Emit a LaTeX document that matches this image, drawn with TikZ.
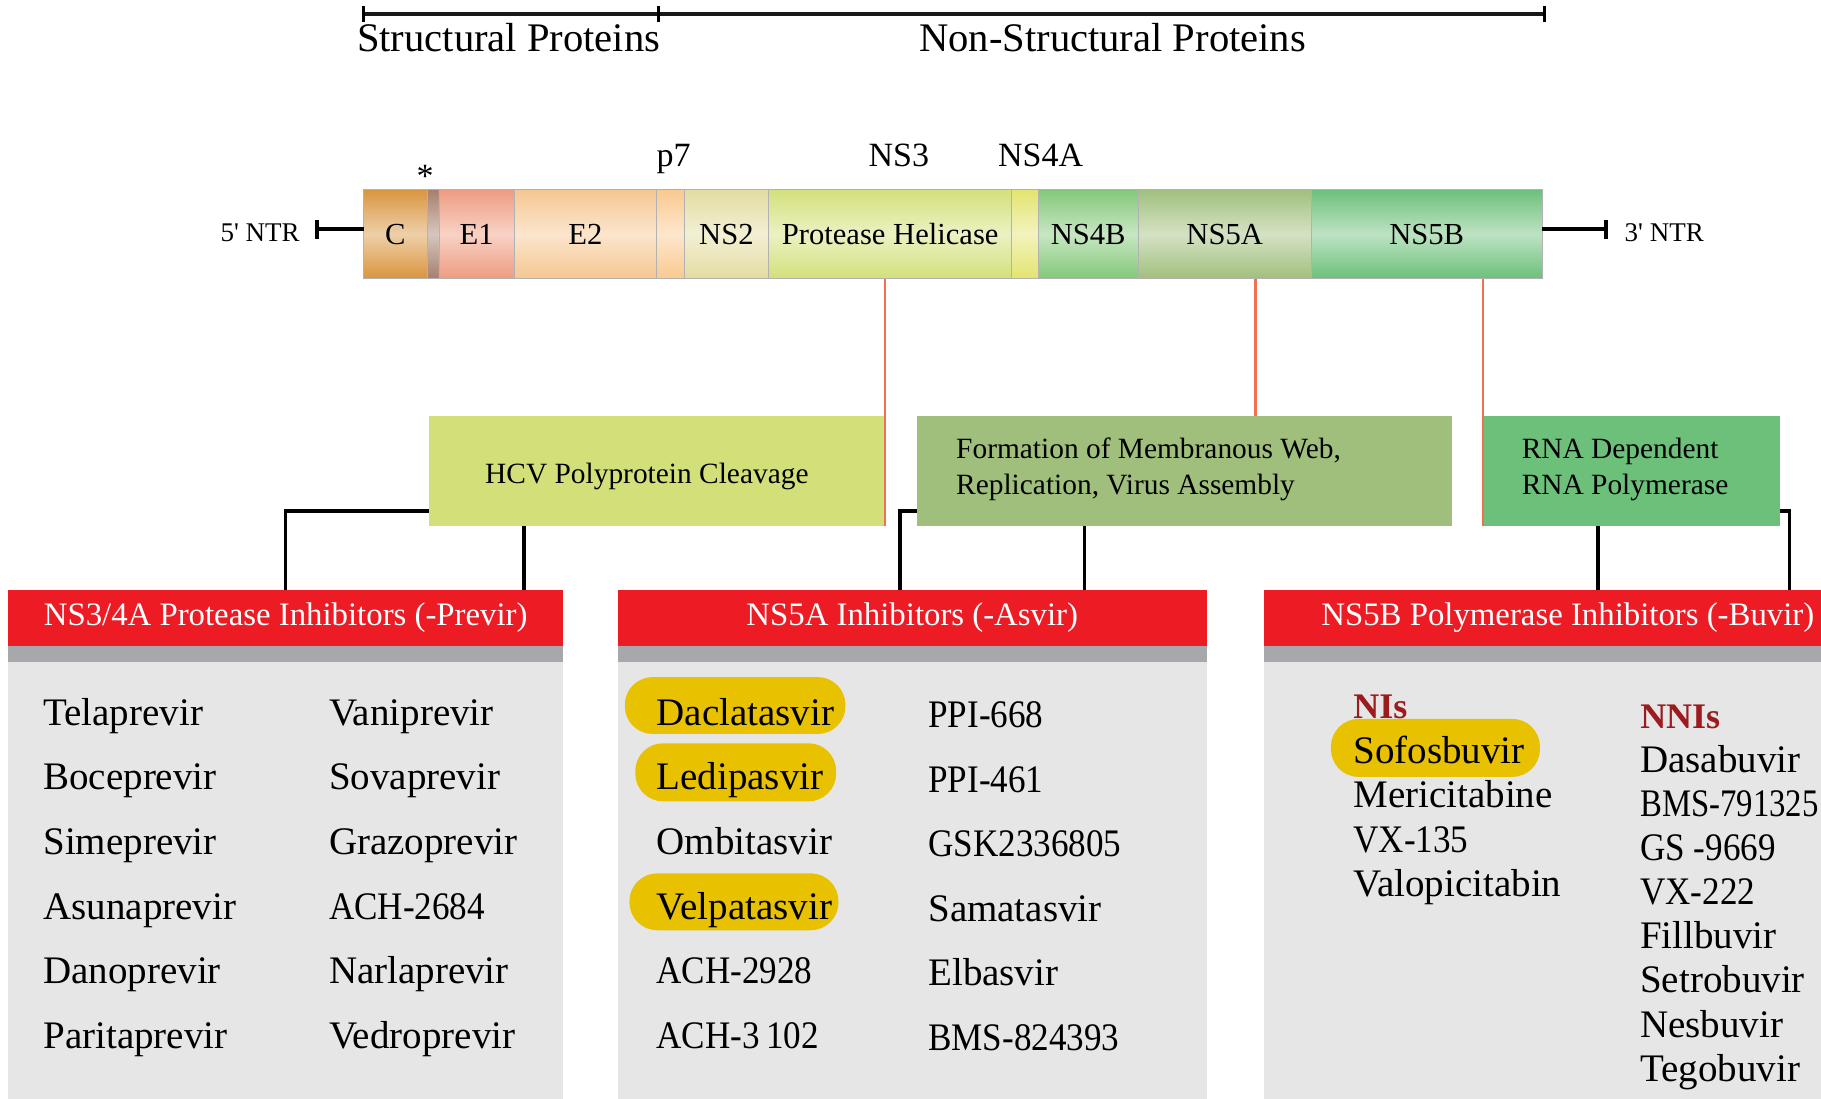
\documentclass[tikz,border=0pt]{standalone}
\usepackage{fontspec}
\setmainfont{Liberation Serif}
\newfontfamily\digfont{Liberation Serif}[FakeStretch=0.9]
\newfontfamily\digfontn{Liberation Serif}[FakeStretch=0.84]
\usetikzlibrary{calc}
\definecolor{cC}{HTML}{D9953E}
\definecolor{cBand}{HTML}{A57F6E}
\definecolor{cE1}{HTML}{EE9B80}
\definecolor{cE2}{HTML}{F6C690}
\definecolor{cP7}{HTML}{FAC98F}
\definecolor{cNS2}{HTML}{E3DCA0}
\definecolor{cNS3}{HTML}{D3E07A}
\definecolor{cNS4A}{HTML}{E3E46E}
\definecolor{cNS4B}{HTML}{82C878}
\definecolor{cNS5A}{HTML}{A0BF7C}
\definecolor{cNS5B}{HTML}{6CC07A}
\definecolor{hdrred}{HTML}{ED1C24}
\definecolor{stripgray}{HTML}{A6A8AB}
\definecolor{panelgray}{HTML}{E6E6E6}
\definecolor{pillgold}{HTML}{E8C100}
\definecolor{linkred}{HTML}{F07050}
\definecolor{darkred}{HTML}{9B1B1E}
\def\pxu{0.5807pt}
\begin{document}
\begin{tikzpicture}[x=0.5807pt,y=-0.5807pt,
  seg/.style={draw=black!30, line width=0.4pt, inner sep=0pt, outer sep=0pt, anchor=north west,
    minimum height=77*\pxu, font=\fontsize{15.3}{18}\selectfont, text height=10.1pt, text depth=0pt,
    top color=#1, bottom color=#1, middle color=#1!45!white},
  funcbox/.style={fill=#1, inner sep=0pt, outer sep=0pt, anchor=north west, minimum height=95*\pxu},
  functext/.style={inner sep=0pt, font=\fontsize{14.7}{18}\selectfont},
  hdr/.style={fill=hdrred, text=white, anchor=north west, minimum height=48*\pxu, inner sep=0pt,
    outer sep=0pt, font=\fontsize{16.4}{19}\selectfont, text height=10.8pt, text depth=3.2pt},
  item/.style={anchor=base west, inner sep=0pt, font=\fontsize{19.5}{23}\selectfont},
  sub/.style={anchor=base west, inner sep=0pt, font=\fontsize{18}{21}\selectfont\bfseries, text=darkred},
  pillbox/.style={fill=pillgold, rounded corners=13.9pt, inner sep=0pt},
  toplab/.style={inner sep=0pt, font=\fontsize{20.3}{24}\selectfont, text height=13.4pt, text depth=0pt},
  seglab/.style={inner sep=0pt, font=\fontsize{17}{20}\selectfont, text height=11.2pt, text depth=0pt},
  ntrlab/.style={inner sep=0pt, font=\fontsize{13.5}{16}\selectfont, text height=8.9pt, text depth=0pt},
  scaleline/.style={line width=2.3pt, black!90},
  blk/.style={line width=1.75pt, black},
  redlink/.style={line width=1.2pt, linkred}
]
\useasboundingbox (0,0) rectangle (1568,946);

% top scale
\coordinate (t0) at (313,12);
\coordinate (t1) at (567,12);
\coordinate (t2) at (1330,12);
\draw[scaleline] (t0) -- (t2);
\foreach \p in {t0,t1,t2} \draw[line width=1.6pt] ($(\p)+(0,-7)$) -- ($(\p)+(0,7)$);
\node[toplab] (sp) at (438,32.5) {Structural Proteins};
\node[toplab] (nsp) at (958,33) {Non-Structural Proteins};

% polyprotein bar
\node[seg=cC,    minimum width=55*\pxu]  (c)    at (313,163) {C};
\node[seg=cBand, minimum width=10*\pxu]  (band) at (368,163) {};
\node[seg=cE1,   minimum width=65*\pxu]  (e1)   at (378,163) {E1};
\node[seg=cE2,   minimum width=122*\pxu] (e2)   at (443,163) {E2};
\node[seg=cP7,   minimum width=24*\pxu]  (p7)   at (565,163) {};
\node[seg=cNS2,  minimum width=73*\pxu]  (ns2)  at (589,163) {NS2};
\node[seg=cNS3,  minimum width=209*\pxu] (ns3)  at (662,163) {Protease Helicase};
\node[seg=cNS4A, minimum width=23*\pxu]  (ns4a) at (871,163) {};
\node[seg=cNS4B, minimum width=86*\pxu]  (ns4b) at (894,163) {NS4B};
\node[seg=cNS5A, minimum width=149*\pxu] (ns5a) at (980,163) {NS5A};
\node[seg=cNS5B, minimum width=199*\pxu] (ns5b) at (1129,163) {NS5B};

\node[seglab] (star) at (366,152) {*};
\node[seglab] (lp7)  at (580,133.5) {p7};
\node[seglab] (lns3) at (774,133.5) {NS3};
\node[seglab] (lns4a) at (896,133.5) {NS4A};

% NTR ends
\coordinate (n5) at ($(c.west)+(-40,-4)$);
\draw[blk, line width=2pt] (n5) -- (n5 -| c.west);
\draw[blk, line width=2pt] ($(n5)+(0,-8)$) -- ($(n5)+(0,8)$);
\node[ntrlab] (l5) at (224,200) {5\textquotesingle\ NTR};
\coordinate (n3) at ($(ns5b.east)+(55,-4)$);
\draw[blk, line width=2pt] (n3 -| ns5b.east) -- (n3);
\draw[blk, line width=2pt] ($(n3)+(0,-8)$) -- ($(n3)+(0,8)$);
\node[ntrlab] (l3) at (1433,200) {3\textquotesingle\ NTR};

% function boxes
\node[funcbox=cNS3, minimum width=393*\pxu] (hcv) at (369,358) {};
\node[functext, text height=9.7pt, text depth=0pt] (hcvtxt) at (557,408) {HCV Polyprotein Cleavage};
\node[funcbox=cNS5A, minimum width=460*\pxu] (form) at (790,358) {};
\node[functext, anchor=west, align=left] (formtxt) at ($(form.west)+(33,-1)$)
  {Formation of Membranous Web,\\Replication, Virus Assembly};
\node[funcbox=cNS5B, minimum width=256*\pxu] (rna) at (1277,358) {};
\node[functext, anchor=west, align=left] (rnatxt) at ($(rna.west)+(33,-1)$)
  {RNA Dependent\\RNA Polymerase};

% red links
\draw[redlink] (hcv.east |- ns3.south) -- (hcv.south east);
\coordinate (r2) at ($(ns5a.south west)+(101,0)$);
\draw[redlink] (r2) -- (r2 |- form.north);
\draw[redlink] (rna.north west |- ns5b.south) -- (rna.south west);

% headers
\node[hdr, minimum width=478*\pxu] (h1) at (7,508) {NS3/4A Protease Inhibitors (-Previr)};
\node[hdr, minimum width=507*\pxu] (h2) at (532,508) {NS5A Inhibitors (-Asvir)};
\node[hdr, minimum width=524*\pxu] (h3) at (1088,508) {NS5B Polymerase Inhibitors (-Buvir)};
\foreach \h in {h1,h2,h3} {
  \fill[stripgray] (\h.south west) rectangle ($(\h.south east)+(0,14)$);
  \fill[panelgray] ($(\h.south west)+(0,14)$) rectangle ($(\h.south east)+(0,420)$);
}

% black connectors
\draw[blk] ($(hcv.south west)+(0,-13)$) -| (h1.north);
\coordinate (b1) at ($(hcv.south west)+(82,0)$);
\draw[blk] (b1) -- (b1 |- h1.north);
\draw[blk] ($(form.south west)+(0,-13)$) -| ($(h2.north west)+(243,0)$);
\coordinate (b2) at ($(form.south west)+(144,0)$);
\draw[blk] (b2) -- (b2 |- h2.north);
\coordinate (b3) at ($(rna.south west)+(99,0)$);
\draw[blk] (b3) -- (b3 |- h3.north);
\draw[blk] ($(rna.south east)+(0,-13)$) -| ($(h3.north west)+(453,0)$);

% pills
\node[pillbox, minimum width=190*\pxu, minimum height=49*\pxu] (pa) at (633,607.5) {};
\node[pillbox, minimum width=173*\pxu, minimum height=50*\pxu] (pb) at (633.5,665) {};
\node[pillbox, minimum width=180*\pxu, minimum height=49*\pxu] (pc) at (632,776.5) {};
\node[pillbox, minimum width=180*\pxu, minimum height=50*\pxu] (pd) at (1236,644) {};

% left panel
\foreach \t [count=\i] in {Telaprevir,Boceprevir,Simeprevir,Asunaprevir,Danoprevir,Paritaprevir}
  \node[item] (la\i) at (37,569+55.6*\i) {\t};
\foreach \t [count=\i] in {Vaniprevir,Sovaprevir,Grazoprevir,{\digfont ACH-2684},Narlaprevir,Vedroprevir}
  \node[item] (lb\i) at (283,569+55.6*\i) {\t};
% middle panel
\foreach \t [count=\i] in {Daclatasvir,Ledipasvir,Ombitasvir,Velpatasvir,{\digfont ACH-2928},{\digfont ACH-3\,102}}
  \node[item] (ma\i) at (565,569+55.6*\i) {\t};
\foreach \t [count=\i] in {{\digfont PPI-668},{\digfont PPI-461},{\digfont GSK2336805},Samatasvir,Elbasvir,{\digfont BMS-824393}}
  \node[item] (mb\i) at (799,571+55.6*\i) {\t};
% right panel
\node[sub] (nis) at (1165,619) {NIs};
\foreach \t [count=\i] in {Sofosbuvir,Mericitabine,{\digfont VX-135},Valopicitabin}
  \node[item] (ra\i) at (1165,619+38.3*\i) {\t};
\node[sub] (nnis) at (1412,627) {NNIs};
\foreach \t [count=\i] in {Dasabuvir,{\digfontn BMS-791325},{\digfont GS -9669},{\digfont VX-222},Fillbuvir,Setrobuvir,Nesbuvir,Tegobuvir}
  \node[item] (rb\i) at (1412,627+38*\i) {\t};
\end{tikzpicture}
\end{document}
